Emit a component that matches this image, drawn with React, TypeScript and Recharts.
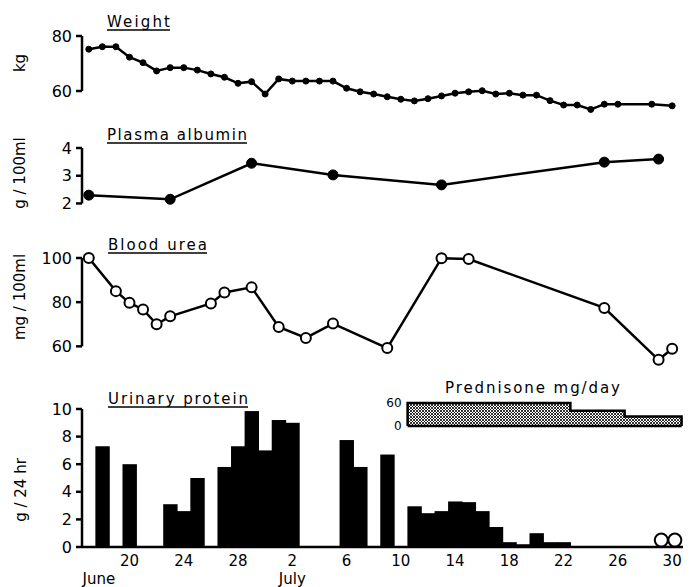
import React from 'react';
import { ComposedChart, Line, Bar, Area, XAxis, YAxis, ReferenceLine, ReferenceDot } from 'recharts';

// days are counted from 1 June, so 2 July = 32 and 30 July = 60
const weightDays = [17, 18, 19, 20, 21, 22, 23, 24, 25, 26, 27, 28, 29, 30, 31, 32, 33, 34, 35, 36, 37, 38, 39, 40, 41, 42, 43, 44, 45, 46, 47, 48, 49, 50, 51, 52, 53, 54, 55, 56, 58.5, 60];
const weightKg = [75.2, 76.1, 76.1, 72.3, 70.3, 67.3, 68.5, 68.5, 67.6, 66.2, 65.0, 62.8, 63.4, 58.9, 64.4, 63.6, 63.6, 63.6, 63.6, 61.0, 59.7, 58.9, 57.9, 57.0, 56.4, 57.2, 58.2, 59.2, 59.7, 60.1, 58.9, 59.2, 58.5, 58.5, 56.5, 54.9, 54.9, 53.3, 55.2, 55.2, 55.2, 54.6];

const albuminDays = [17, 23, 29, 35, 43, 55, 59];
const albuminG = [2.3, 2.15, 3.45, 3.03, 2.67, 3.49, 3.6];

const ureaDays = [17, 19, 20, 21, 22, 23, 26, 27, 29, 31, 33, 35, 39, 43, 45, 55, 59, 60];
const ureaMg = [100, 85, 79.7, 76.7, 70, 73.6, 79.4, 84.4, 86.7, 68.8, 63.8, 70.3, 59.2, 99.9, 99.5, 77.4, 53.9, 58.9];

const proteinDays = [18, 20, 23, 24, 25, 27, 28, 29, 30, 31, 32, 36, 37, 39, 41, 42, 43, 44, 45, 46, 47, 48, 49, 50, 51, 52];
const proteinG = [7.3, 6.0, 3.1, 2.6, 5.0, 5.8, 7.3, 9.85, 7.0, 9.2, 9.0, 7.75, 5.8, 6.7, 2.95, 2.45, 2.6, 3.3, 3.25, 2.6, 1.45, 0.35, 0.2, 1.0, 0.35, 0.35];
const nilProteinDays = [59.2, 60.2];

const predDays = [40.5, 40.5, 52.5, 56.5, 60.7, 60.7];
const predMg = [0, 60, 40, 25, 25, 0];

const dayTicks = [20, 24, 28, 32, 36, 40, 44, 48, 52, 56, 60];

const W = 696;
const H = 587;
const FONT = '"DejaVu Sans", sans-serif';
const X_DOMAIN: [number, number] = [16.5, 60.8];
const AXIS_W = 50;
const LEFT = 82 - AXIS_W;
const RIGHT = W - 683;
const DAY_PX = 14.4;

const weightData = weightDays.map((d, i) => ({ d, v: weightKg[i] }));
const albuminData = albuminDays.map((d, i) => ({ d, v: albuminG[i] }));
const ureaData = ureaDays.map((d, i) => ({ d, v: ureaMg[i] }));
const proteinData = proteinDays.map((d, i) => ({ d, v: proteinG[i] }));
const predData = predDays.map((d, i) => ({ d, v: predMg[i] }));

const layer: React.CSSProperties = { position: 'absolute', left: 0, top: 0 };
const tickStyle = { fill: '#000', fontSize: 16, fontFamily: FONT };
const ink = { stroke: '#000', strokeWidth: 2.5 };

// underlined panel heading, underline drawn as its own stroke
const Title = ({ x, y, len, children, under = true }: any) => (
  <g>
    <text x={x} y={y} textLength={len} fontSize={15} fontFamily={FONT} fill="#000">{children}</text>
    {under && <line x1={x} x2={x + len} y1={y + 3} y2={y + 3} stroke="#000" strokeWidth={1.3} />}
  </g>
);

const Unit = ({ x, y, children }: any) => (
  <text transform={`translate(${x},${y}) rotate(-90)`} textAnchor="middle" dominantBaseline="central"
    fontSize={15} fontFamily={FONT} fill="#000">{children}</text>
);

const DayTick = (props: any) => {
  const { x, y, payload } = props;
  const d = payload.value;
  return (
    <g fontFamily={FONT} fontSize={15} fill="#000">
      <text x={x} y={y + 19} textAnchor="middle">{d > 30 ? d - 30 : d}</text>
      {d === 20 && <text x={x - 47} y={y + 37}>June</text>}
      {d === 32 && <text x={x} y={y + 37} textAnchor="middle">July</text>}
    </g>
  );
};

// one-day wide block so neighbouring days join up like the histogram
const dayBlock = (p: any) =>
  p.height > 0 ? (
    <rect x={p.x + p.width / 2 - DAY_PX / 2} y={p.y} width={DAY_PX} height={p.height} fill="#000" />
  ) : <g />;

const bracket = (lo: number, hi: number) => (
  <ReferenceLine segment={[{ x: X_DOMAIN[0], y: lo }, { x: X_DOMAIN[0], y: hi }]} {...ink} />
);

export default function App() {
  return (
    <div style={{ position: 'absolute', left: 0, top: 0, width: W, height: H, background: '#fff' }}>
      {/* Weight */}
      <div style={layer}>
        <ComposedChart width={W} height={H} data={weightData}
          margin={{ top: 36, right: RIGHT, bottom: H - 113, left: LEFT }}>
          <XAxis dataKey="d" type="number" domain={X_DOMAIN} hide />
          <YAxis width={AXIS_W} domain={[52, 80]} ticks={[60, 80]} axisLine={false}
            tickLine={ink} tickSize={6} tickMargin={4} tick={tickStyle} />
          {bracket(60, 80)}
          <Line dataKey="v" type="linear" stroke="#000" strokeWidth={2.5}
            dot={{ r: 3, fill: '#000', stroke: '#000', strokeWidth: 1 }} isAnimationActive={false} />
          <Title x={107} y={27} len={63}>Weight</Title>
          <Unit x={20} y={63}>kg</Unit>
        </ComposedChart>
      </div>

      {/* Plasma albumin */}
      <div style={layer}>
        <ComposedChart width={W} height={H} data={albuminData}
          margin={{ top: 148, right: RIGHT, bottom: H - 209, left: LEFT }}>
          <XAxis dataKey="d" type="number" domain={X_DOMAIN} hide />
          <YAxis width={AXIS_W} domain={[1.8, 4]} ticks={[2, 3, 4]} axisLine={false}
            tickLine={ink} tickSize={6} tickMargin={4} tick={tickStyle} />
          {bracket(2, 4)}
          <Line dataKey="v" type="linear" stroke="#000" strokeWidth={2.5}
            dot={{ r: 5, fill: '#000', stroke: '#000', strokeWidth: 1 }} isAnimationActive={false} />
          <Title x={107} y={140} len={140}>Plasma albumin</Title>
          <Unit x={20} y={173}>g / 100ml</Unit>
        </ComposedChart>
      </div>

      {/* Blood urea */}
      <div style={layer}>
        <ComposedChart width={W} height={H} data={ureaData}
          margin={{ top: 258, right: RIGHT, bottom: H - 364, left: LEFT }}>
          <XAxis dataKey="d" type="number" domain={X_DOMAIN} hide />
          <YAxis width={AXIS_W} domain={[52, 100]} ticks={[60, 80, 100]} axisLine={false}
            tickLine={ink} tickSize={6} tickMargin={4} tick={tickStyle} />
          {bracket(60, 100)}
          <Line dataKey="v" type="linear" stroke="#000" strokeWidth={2.5}
            dot={{ r: 5, fill: '#fff', stroke: '#000', strokeWidth: 2 }} isAnimationActive={false} />
          <Title x={108} y={250} len={99}>Blood urea</Title>
          <Unit x={20} y={297}>mg / 100ml</Unit>
        </ComposedChart>
      </div>

      {/* Urinary protein */}
      <div style={layer}>
        <ComposedChart width={W} height={H} data={proteinData} barCategoryGap={0} barGap={0}
          margin={{ top: 395.2, right: RIGHT, bottom: 0, left: LEFT }}>
          <XAxis dataKey="d" type="number" domain={X_DOMAIN} ticks={dayTicks} height={40}
            axisLine={ink} tickLine={false} tickSize={0} tickMargin={0} tick={<DayTick />} />
          <YAxis width={AXIS_W} domain={[0, 11]} ticks={[0, 2, 4, 6, 8, 10]} axisLine={false}
            tickLine={ink} tickSize={6} tickMargin={4} tick={tickStyle} />
          {bracket(0, 10)}
          <Bar dataKey="v" fill="#000" shape={dayBlock} isAnimationActive={false} />
          {nilProteinDays.map((d) => (
            <ReferenceDot key={d} x={d} y={0.5} r={6.5} fill="#fff" stroke="#000" strokeWidth={2} />
          ))}
          <Title x={108} y={404} len={140}>Urinary protein</Title>
          <Unit x={21} y={490}>g / 24 hr</Unit>
        </ComposedChart>
      </div>

      {/* Prednisone */}
      <div style={layer}>
        <ComposedChart width={W} height={H} data={predData}
          margin={{ top: 403, right: W - 681.6, bottom: H - 426, left: 407.6 - 30 }}>
          <defs>
            <pattern id="xhatch" width={3} height={3} patternUnits="userSpaceOnUse">
              <rect width={3} height={3} fill="#fff" />
              <path d="M0,0 L3,3 M3,0 L0,3" stroke="#000" strokeWidth={0.8} />
            </pattern>
          </defs>
          <XAxis dataKey="d" type="number" domain={[40.5, 60.7]} hide />
          <YAxis width={30} domain={[0, 60]} ticks={[0, 60]} axisLine={false} tickLine={false}
            tickSize={0} tickMargin={6} tick={{ fill: '#000', fontSize: 12, fontFamily: FONT }} />
          <Area dataKey="v" type="stepAfter" fill="url(#xhatch)" fillOpacity={1}
            stroke="#000" strokeWidth={2.5} isAnimationActive={false} />
          <ReferenceLine segment={[{ x: 40.5, y: 0 }, { x: 60.7, y: 0 }]} {...ink} />
          <Title x={445} y={393} len={175} under={false}>Prednisone  mg/day</Title>
        </ComposedChart>
      </div>
    </div>
  );
}
